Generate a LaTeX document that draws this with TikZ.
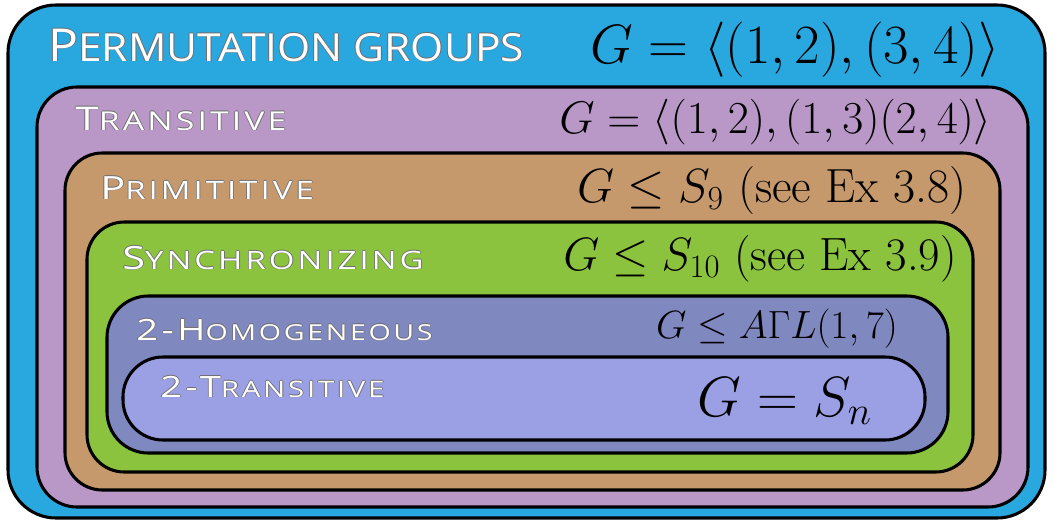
\RequirePackage{fix-cm}
\documentclass[tikz,border=0pt]{standalone}
\usepackage{fontspec}
\usepackage{amsmath}
\newfontfamily\bigcapsfont[FakeStretch=1.1]{Open Sans}
\newfontfamily\capsfont[FakeStretch=1.3,LetterSpace=12]{Open Sans}
\definecolor{permblue}{RGB}{41,168,224}
\definecolor{transpurple}{RGB}{185,151,199}
\definecolor{primbrown}{RGB}{197,153,108}
\definecolor{syncgreen}{RGB}{139,195,63}
\definecolor{homslate}{RGB}{128,136,192}
\definecolor{twolav}{RGB}{155,160,228}
\definecolor{halogray}{RGB}{110,110,110}
% white letters with a thin grey rim
\newcommand{\halo}[1]{{\setbox0=\hbox{#1}%
  \rlap{\color{halogray}\kern-0.6pt\copy0}%
  \rlap{\color{halogray}\kern0.6pt\copy0}%
  \rlap{\color{halogray}\raise0.6pt\copy0}%
  \rlap{\color{halogray}\lower0.6pt\copy0}%
  \color{white}\box0}}
% hand made small caps: font, big size, small size, big part, small part
\newcommand{\sclabel}[5]{\halo{#1{\fontsize{#2}{#2}\selectfont#4}{\fontsize{#3}{#3}\selectfont#5}}}
\tikzset{
  setbox/.style={draw=black, line width=2.3pt},
  setname/.style={anchor=base west, inner sep=0pt},
  setgen/.style={anchor=base east, inner sep=0pt, text=black}
}
\begin{document}
\begin{tikzpicture}[x=0.75pt,y=0.75pt,yscale=-1,xscale=1]
\useasboundingbox (0,0) rectangle (1055,521);

%Rounded Rect: permutation groups
\draw [setbox, fill=permblue, rounded corners=36pt] (8,5) rectangle (1045,518);
%Rounded Rect: transitive
\draw [setbox, fill=transpurple, rounded corners=30pt] (37,87) rectangle (1028,507);
%Rounded Rect: primitive
\draw [setbox, fill=primbrown, rounded corners=28pt] (65,153) rectangle (1000,490);
%Rounded Rect: synchronizing
\draw [setbox, fill=syncgreen, rounded corners=28pt] (87,222) rectangle (973,472);
%Rounded Rect: 2-homogeneous
\draw [setbox, fill=homslate, rounded corners=31pt] (107,296) rectangle (948,453);
%Rounded Rect: 2-transitive
\draw [setbox, fill=twolav, rounded corners=30pt] (123,357) rectangle (925,440);

% Text Node
\node [setname] (permname) at (48,61) {\sclabel{\bigcapsfont}{34pt}{29pt}{P}{ERMUTATION GROUPS}};
\node [setgen] (permgen) at (1000,63) {\fontsize{41.5pt}{41.5pt}\selectfont$G=\langle(1,2),(3,4)\rangle$};
% Text Node
\node [setname] (transname) at (75,130) {\sclabel{\capsfont}{24.5pt}{19.5pt}{T}{RANSITIVE}};
\node [setgen] (transgen) at (992,133) {\fontsize{34.3pt}{34.3pt}\selectfont$G=\langle(1,2),(1,3)(2,4)\rangle$};
% Text Node
\node [setname] (primname) at (100,199) {\sclabel{\capsfont}{24pt}{19pt}{P}{RIMITITIVE}};
\node [setgen] (primgen) at (967,202) {\fontsize{36pt}{36pt}\selectfont$G\leq S_9$ (see Ex 3.8)};
% Text Node
\node [setname] (syncname) at (122,269) {\sclabel{\capsfont}{24pt}{19pt}{S}{YNCHRONIZING}};
\node [setgen] (syncgen) at (957,270) {\fontsize{35pt}{35pt}\selectfont$G\leq S_{10}$ (see Ex 3.9)};
% Text Node
\node [setname] (homname) at (136,340) {\sclabel{\capsfont}{22pt}{16.5pt}{2-H}{OMOGENEOUS}};
\node [setgen] (homgen) at (898,338) {\fontsize{29.5pt}{29.5pt}\selectfont$G\leq A\Gamma L(1,7)$};
% Text Node
\node [setname] (twoname) at (160,397) {\sclabel{\capsfont}{22pt}{17pt}{2-T}{RANSITIVE}};
\node [setgen] (twogen) at (872,416) {\fontsize{42.5pt}{42.5pt}\selectfont$G=S_n$};
\end{tikzpicture}
\end{document}
